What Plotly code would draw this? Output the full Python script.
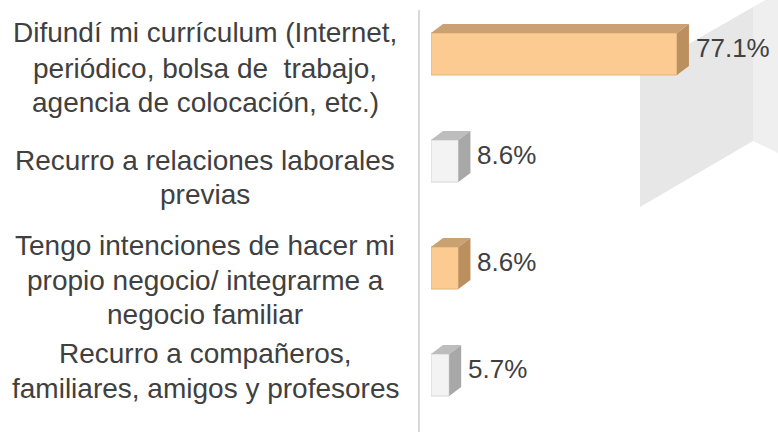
import plotly.graph_objects as go

# ---- data -------------------------------------------------------------
categories = [
    "Difundí mi currículum (Internet,<br>periódico, bolsa de\u00a0 trabajo,<br>agencia de colocación, etc.)",
    "Recurro a relaciones laborales<br>previas",
    "Tengo intenciones de hacer mi<br>propio negocio/ integrarme a<br>negocio familiar",
    "Recurro a compañeros,<br>familiares, amigos y profesores",
]
values = [77.1, 8.6, 8.6, 5.7]
value_labels = ["77.1%", "8.6%", "8.6%", "5.7%"]
bar_styles = ["tan", "white", "tan", "white"]

# ---- layout constants -------------------------------------------------
W, H = 778, 432
LEFT = 431                      # pixel where the value axis starts
PLOT_W = W - LEFT
X_MAX = 108.78                  # value range shown across the plot area
Y_RANGE = [-0.5327, 3.5047]     # category slots, top bar at 3
BAR_W = 0.3925
DEPTH_PX = (12, 9)              # 3D extrusion: right, up

TEXT = "#404040"
FONT = "Liberation Sans, Arial, sans-serif"

FACES = {
    "tan":   dict(front="#FBCB91", edge="#E3B47C", top="#C9A172", side="#BC8F5F"),
    "white": dict(front="#F3F3F3", edge="#D6D6D6", top="#BDBDBD", side="#A8A8A8"),
}

# category slots from top to bottom
slots = list(range(len(categories) - 1, -1, -1))

# pixel depth expressed in axis units
du = DEPTH_PX[0] * X_MAX / PLOT_W
dv = DEPTH_PX[1] * (Y_RANGE[1] - Y_RANGE[0]) / H

fig = go.Figure()

# front faces of the bars
for style in FACES:
    idx = [i for i, s in enumerate(bar_styles) if s == style]
    fig.add_trace(go.Bar(
        x=[values[i] for i in idx],
        y=[slots[i] for i in idx],
        orientation="h",
        width=BAR_W,
        marker=dict(color=FACES[style]["front"],
                    line=dict(color=FACES[style]["edge"], width=1)),
        hoverinfo="skip",
        showlegend=False,
    ))

shapes = []

# light grey back walls on the right
def px_to_paper(px, py):
    return (px - LEFT) / PLOT_W, 1 - py / H

def wall(points, color):
    pts = [px_to_paper(*p) for p in points]
    path = "M " + " L ".join(f"{x:.4f},{y:.4f}" for x, y in pts) + " Z"
    return dict(type="path", xref="paper", yref="paper", path=path,
                fillcolor=color, line=dict(width=0), layer="below")

shapes.append(wall([(640, 72), (753, 7), (753, 141), (640, 207)], "#E7E7E7"))
shapes.append(wall([(753, 7), (778, -7), (778, 153), (753, 141)], "#EFEFEF"))

# value axis line
shapes.append(dict(type="line", xref="paper", yref="paper",
                   xsizemode="pixel", xanchor=0, x0=-12, x1=-12,
                   y0=0, y1=1 - 10 / H,
                   line=dict(color="#D9D9D9", width=2)))

# top and side faces of every bar
for v, y, style in zip(values, slots, bar_styles):
    f = FACES[style]
    top_y = y + BAR_W / 2
    bot_y = y - BAR_W / 2
    top = (f"M 0,{top_y} L {v},{top_y} L {v + du},{top_y + dv} "
           f"L {du},{top_y + dv} Z")
    side = (f"M {v},{top_y} L {v + du},{top_y + dv} L {v + du},{bot_y + dv} "
            f"L {v},{bot_y} Z")
    shapes.append(dict(type="path", xref="x", yref="y", path=top,
                       fillcolor=f["top"], line=dict(width=0)))
    shapes.append(dict(type="path", xref="x", yref="y", path=side,
                       fillcolor=f["side"], line=dict(width=0)))

annotations = []

# value labels next to the bars
for v, y, txt in zip(values, slots, value_labels):
    annotations.append(dict(
        x=v + du, y=y, xref="x", yref="y", text=txt, showarrow=False,
        xanchor="left", yanchor="middle", xshift=5, yshift=6,
        font=dict(family=FONT, size=26, color=TEXT),
    ))

# category labels, one centred line at a time
LABEL_X = 205
label_line_y = [[33, 68, 102], [160, 194], [245, 280, 314], [353, 388]]
for cat, ys in zip(categories, label_line_y):
    for line, py in zip(cat.split("<br>"), ys):
        px, pp = px_to_paper(LABEL_X, py)
        annotations.append(dict(
            x=px, y=pp, xref="paper", yref="paper", text=line,
            showarrow=False, xanchor="center", yanchor="middle",
            font=dict(family=FONT, size=28, color=TEXT),
        ))

fig.update_layout(
    width=W, height=H,
    margin=dict(l=LEFT, r=0, t=0, b=0),
    paper_bgcolor="white", plot_bgcolor="rgba(0,0,0,0)",
    xaxis=dict(range=[0, X_MAX], visible=False, fixedrange=True),
    yaxis=dict(range=Y_RANGE, visible=False, fixedrange=True),
    shapes=shapes,
    annotations=annotations,
    barmode="overlay",
    showlegend=False,
)

fig.write_html("out.html")
